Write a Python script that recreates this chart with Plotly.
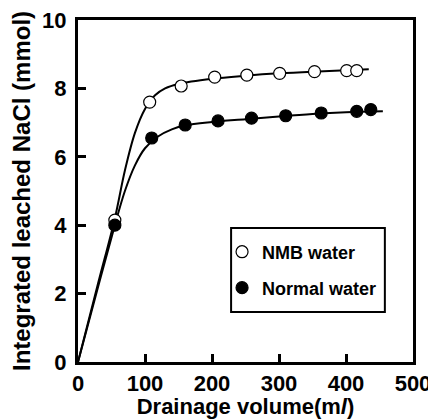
import plotly.graph_objects as go

# Measured data points
nmb_x = [55, 107, 154, 204, 252, 301, 353, 401, 416]
nmb_y = [4.15, 7.6, 8.07, 8.33, 8.39, 8.44, 8.49, 8.52, 8.52]
normal_x = [55, 110, 160, 209, 259, 310, 363, 416, 437]
normal_y = [4.0, 6.55, 6.93, 7.05, 7.13, 7.2, 7.28, 7.33, 7.38]

# Fitted curves
nmb_fit_x = [0, 30, 55, 70, 85, 100, 115, 130, 150, 200, 250, 300, 350, 400, 434]
nmb_fit_y = [0, 2.3, 4.2, 5.6, 6.7, 7.4, 7.8, 8.0, 8.13, 8.28, 8.37, 8.44, 8.49, 8.53, 8.56]
normal_fit_x = [0, 30, 55, 70, 85, 100, 120, 140, 160, 200, 250, 300, 350, 400, 455]
normal_fit_y = [0, 2.2, 4.0, 5.0, 5.75, 6.25, 6.6, 6.8, 6.92, 7.02, 7.1, 7.18, 7.25, 7.3, 7.33]

x_ticks = [0, 100, 200, 300, 400, 500]
y_ticks = [0, 2, 4, 6, 8, 10]

FONT = "Liberation Sans, Arial, sans-serif"

fig = go.Figure()
fig.add_trace(go.Scatter(x=nmb_fit_x, y=nmb_fit_y, mode="lines", line=dict(color="black", width=2, shape="spline"),
                         showlegend=False, hoverinfo="skip"))
fig.add_trace(go.Scatter(x=normal_fit_x, y=normal_fit_y, mode="lines", line=dict(color="black", width=2, shape="spline"),
                         showlegend=False, hoverinfo="skip"))
fig.add_trace(go.Scatter(x=nmb_x, y=nmb_y, mode="markers", name="NMB water", legend="legend",
                         marker=dict(symbol="circle", size=12, color="white", line=dict(color="black", width=1.2))))
fig.add_trace(go.Scatter(x=normal_x, y=normal_y, mode="markers", name="Normal water", legend="legend2",
                         marker=dict(symbol="circle", size=12, color="black", line=dict(color="black", width=1.2))))

axis_common = dict(showline=True, linecolor="black", linewidth=3, mirror=True, ticks="inside",
                   tickcolor="black", tickwidth=3, ticklen=8, showgrid=False, zeroline=False,
                   automargin=False, ticklabeloverflow="allow",
                   tickfont=dict(family=FONT, size=22, color="black", weight="bold"))

fig.update_xaxes(range=[0, 500], tickvals=x_ticks,
                 title=dict(text="Drainage volume(m<i>l</i>)",
                            font=dict(family=FONT, size=22, color="black", weight="bold"), standoff=6),
                 **axis_common)
fig.update_yaxes(range=[0, 10], tickvals=y_ticks,
                 title=dict(text="Integrated leached NaCl (mmol)",
                            font=dict(family=FONT, size=24, color="black", weight="bold"), standoff=5),
                 ticklabelstandoff=4, **axis_common)

# legend frame
fig.add_shape(type="rect", xref="paper", yref="paper", x0=0.457, x1=0.916, y0=0.146, y1=0.392,
              line=dict(color="black", width=2), fillcolor="rgba(0,0,0,0)", layer="above")

leg_common = dict(xanchor="left", yanchor="middle", bgcolor="rgba(0,0,0,0)", borderwidth=0,
                  font=dict(family=FONT, size=18, color="black", weight="bold"), itemwidth=30)
fig.update_layout(
    width=428, height=411,
    margin=dict(l=70, r=23, t=12, b=57),
    plot_bgcolor="white", paper_bgcolor="white",
    font=dict(family=FONT, color="black"),
    legend=dict(x=0.430, y=0.3216, **leg_common),
    legend2=dict(x=0.430, y=0.2164, **leg_common),
)

fig.write_html("out.html")
